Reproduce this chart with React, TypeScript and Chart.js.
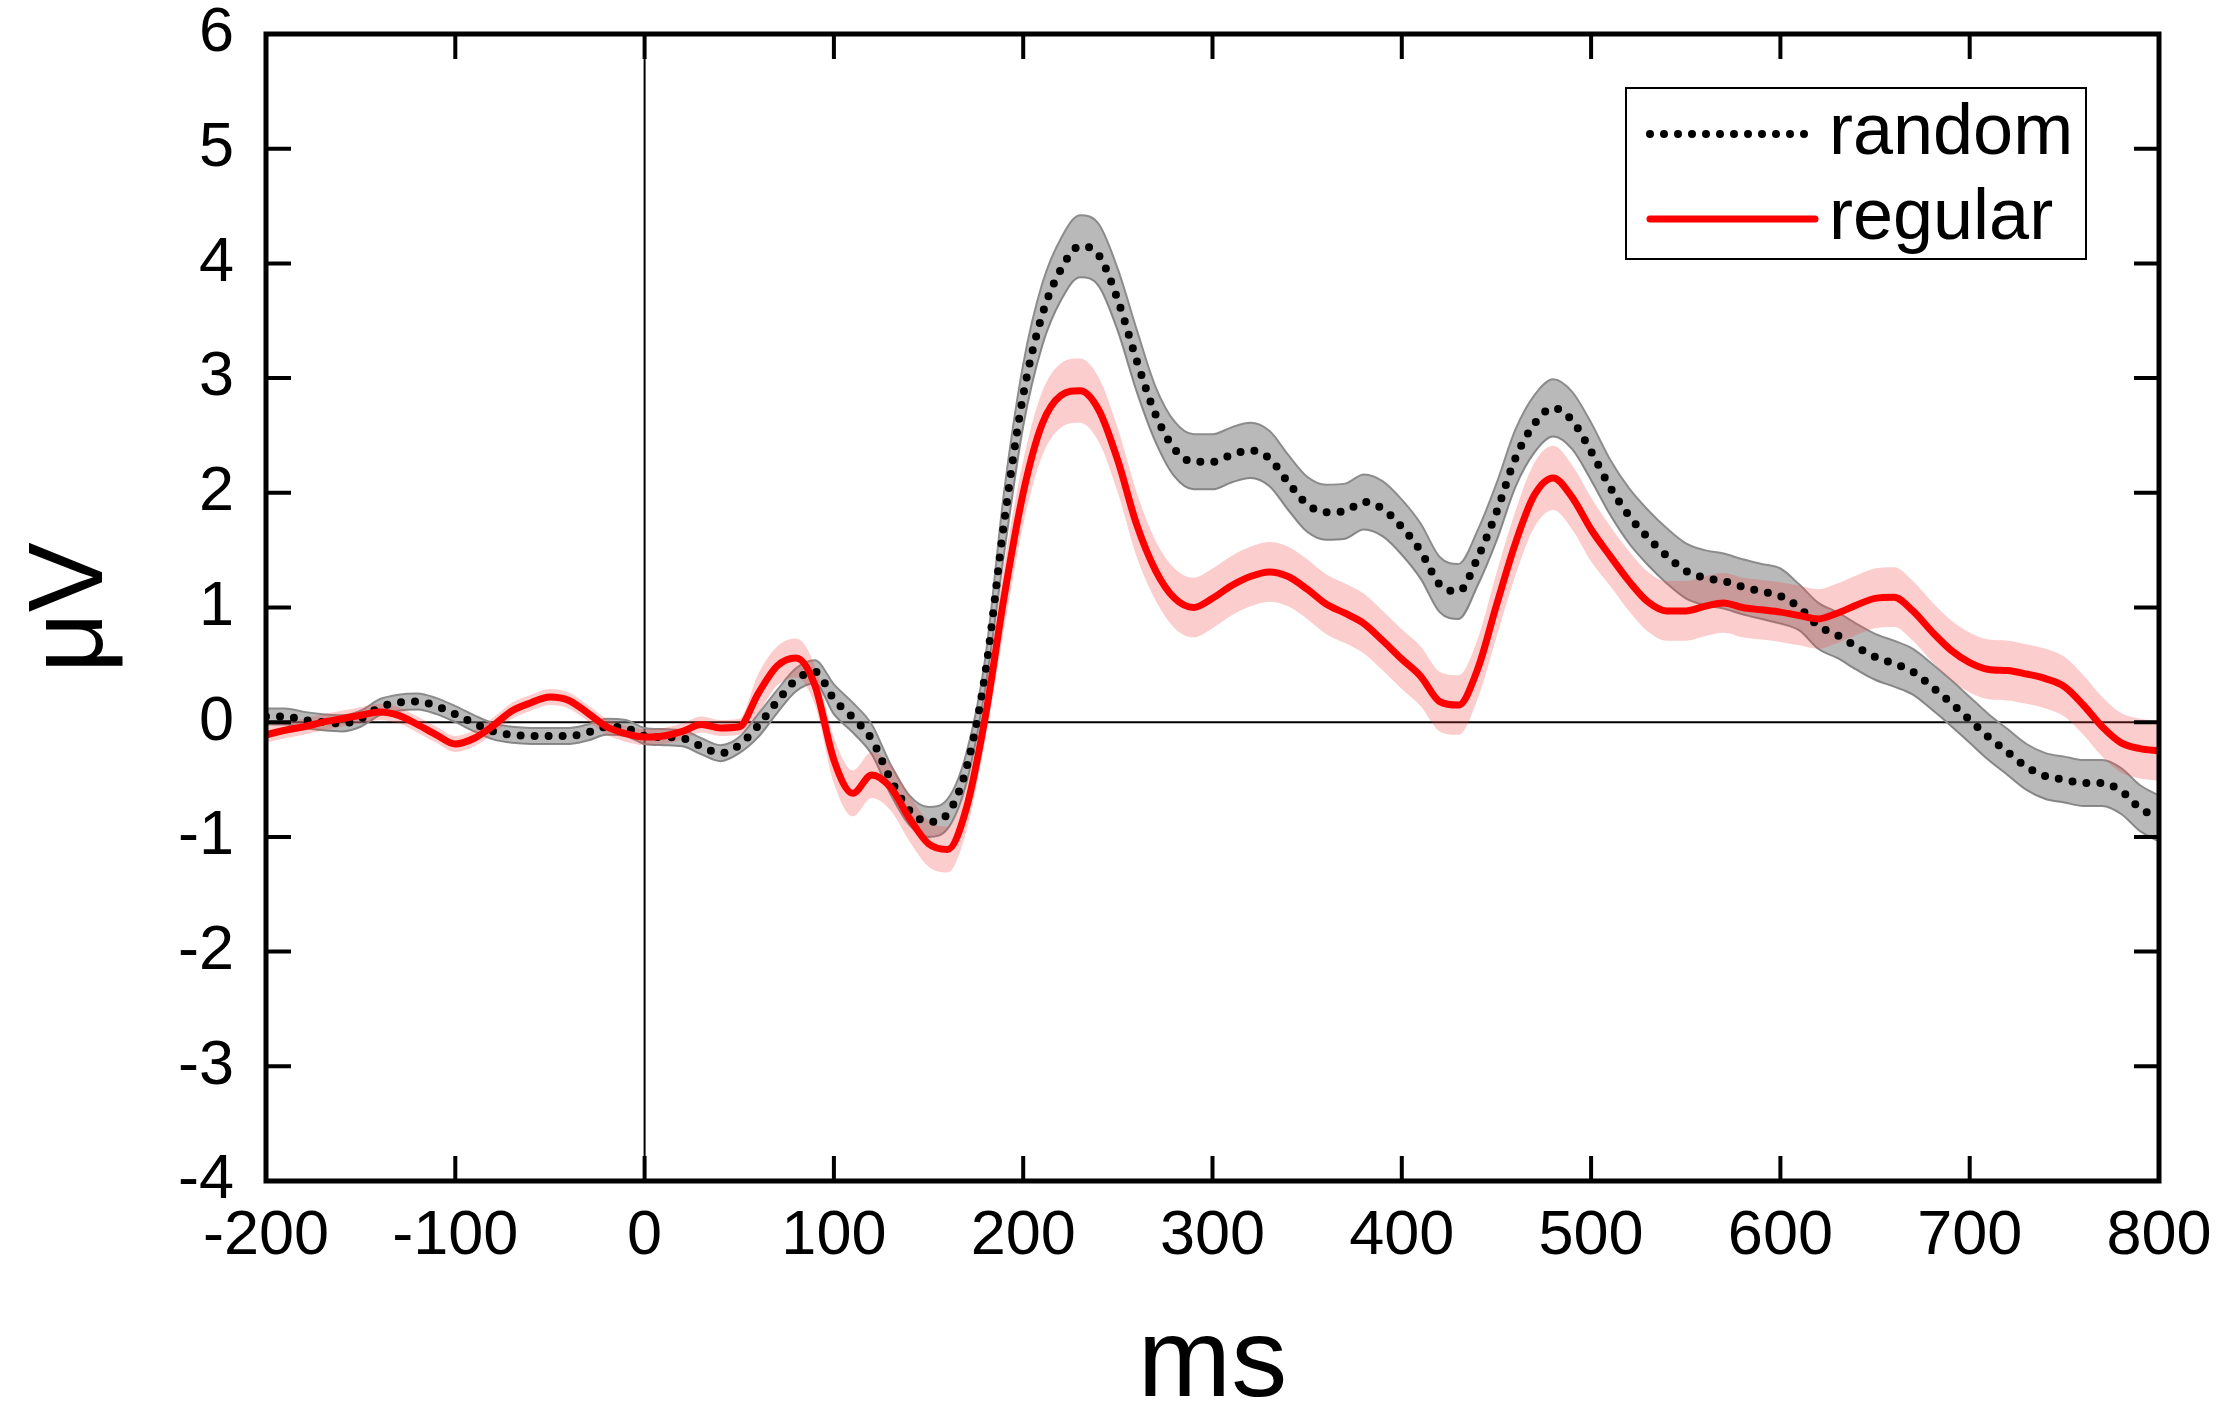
import React, { useEffect, useRef } from 'react';
import { Chart, registerables } from 'chart.js';

Chart.register(...registerables);

// time axis (ms) and the two grand-average ERP traces (µV), every 10 ms
const times = [
  -200, -190, -180, -170, -160, -150, -140, -130, -120, -110, -100, -90, -80, -70, -60, -50, -40, -30, -20, -10,
  0, 10, 20, 30, 40, 50, 60, 70, 80, 90, 100, 110, 120, 130, 140, 150, 160, 170, 180, 190,
  200, 210, 220, 230, 240, 250, 260, 270, 280, 290, 300, 310, 320, 330, 340, 350, 360, 370, 380, 390,
  400, 410, 420, 430, 440, 450, 460, 470, 480, 490, 500, 510, 520, 530, 540, 550, 560, 570, 580, 590,
  600, 610, 620, 630, 640, 650, 660, 670, 680, 690, 700, 710, 720, 730, 740, 750, 760, 770, 780, 790, 800,
];

const randomMean = [
  0.05, 0.05, 0.02, 0.0, -0.01, 0.03, 0.13, 0.17, 0.18, 0.14, 0.07, -0.01, -0.08, -0.11, -0.12, -0.12, -0.12, -0.09, -0.04, -0.05,
  -0.12, -0.13, -0.14, -0.21, -0.27, -0.2, -0.03, 0.18, 0.37, 0.44, 0.2, 0.04, -0.15, -0.5, -0.77, -0.87, -0.8, -0.4, 0.43, 1.75,
  2.85, 3.55, 3.95, 4.15, 4.07, 3.68, 3.15, 2.68, 2.38, 2.27, 2.27, 2.33, 2.37, 2.3, 2.09, 1.9, 1.83, 1.84, 1.92, 1.86,
  1.7, 1.49, 1.2, 1.14, 1.43, 1.83, 2.3, 2.6, 2.74, 2.63, 2.36, 2.05, 1.8, 1.61, 1.45, 1.32, 1.26, 1.23, 1.18, 1.14,
  1.1, 1.0, 0.84, 0.76, 0.66, 0.57, 0.51, 0.44, 0.31, 0.17, 0.02, -0.13, -0.26, -0.39, -0.47, -0.5, -0.53, -0.53, -0.6, -0.75, -0.84,
];

const randomErr = [
  0.07, 0.07, 0.07, 0.07, 0.07, 0.07, 0.07, 0.07, 0.07, 0.07, 0.07, 0.07, 0.07, 0.07, 0.07, 0.07, 0.07, 0.07, 0.07, 0.07,
  0.07, 0.07, 0.07, 0.07, 0.07, 0.07, 0.1, 0.1, 0.1, 0.1, 0.13, 0.13, 0.13, 0.13, 0.13, 0.13, 0.13, 0.13, 0.13, 0.27,
  0.27, 0.27, 0.27, 0.27, 0.27, 0.27, 0.27, 0.24, 0.24, 0.24, 0.24, 0.24, 0.24, 0.24, 0.24, 0.24, 0.24, 0.24, 0.24, 0.24,
  0.24, 0.24, 0.24, 0.24, 0.24, 0.25, 0.25, 0.25, 0.25, 0.25, 0.25, 0.24, 0.24, 0.24, 0.24, 0.24, 0.24, 0.24, 0.24, 0.24,
  0.24, 0.2, 0.2, 0.2, 0.2, 0.2, 0.2, 0.2, 0.2, 0.2, 0.2, 0.2, 0.2, 0.2, 0.2, 0.2, 0.2, 0.2, 0.2, 0.2, 0.2,
];

const regularMean = [
  -0.11, -0.07, -0.04, 0.0, 0.03, 0.06, 0.09, 0.06, -0.02, -0.11, -0.19, -0.14, -0.03, 0.1, 0.17, 0.22, 0.19, 0.08, -0.04, -0.1,
  -0.13, -0.12, -0.08, -0.02, -0.05, -0.04, 0.25, 0.49, 0.56, 0.32, -0.33, -0.62, -0.46, -0.57, -0.84, -1.06, -1.11, -0.75, 0.05, 1.1,
  2.0, 2.6, 2.85, 2.89, 2.72, 2.28, 1.72, 1.32, 1.08, 1.0, 1.08, 1.19, 1.27, 1.31, 1.27, 1.16, 1.03, 0.95, 0.86, 0.71,
  0.55, 0.4, 0.18, 0.15, 0.46, 1.02, 1.56, 1.98, 2.13, 1.96, 1.68, 1.45, 1.23, 1.05, 0.97, 0.97, 1.01, 1.04, 1.0, 0.98,
  0.96, 0.93, 0.9, 0.95, 1.02, 1.08, 1.09, 0.97, 0.79, 0.63, 0.52, 0.46, 0.45, 0.42, 0.38, 0.31, 0.15, -0.04, -0.18, -0.23, -0.25,
];

const regularErr = [
  0.07, 0.07, 0.07, 0.07, 0.07, 0.07, 0.07, 0.07, 0.07, 0.07, 0.07, 0.07, 0.07, 0.07, 0.07, 0.07, 0.07, 0.07, 0.07, 0.07,
  0.07, 0.07, 0.07, 0.07, 0.07, 0.07, 0.17, 0.17, 0.17, 0.17, 0.2, 0.2, 0.2, 0.2, 0.2, 0.2, 0.2, 0.2, 0.2, 0.28,
  0.28, 0.28, 0.28, 0.28, 0.28, 0.28, 0.28, 0.26, 0.26, 0.26, 0.26, 0.26, 0.26, 0.26, 0.26, 0.26, 0.26, 0.26, 0.26, 0.26,
  0.26, 0.26, 0.26, 0.26, 0.26, 0.28, 0.28, 0.28, 0.28, 0.28, 0.28, 0.26, 0.26, 0.26, 0.26, 0.26, 0.26, 0.26, 0.26, 0.26,
  0.26, 0.26, 0.26, 0.26, 0.26, 0.26, 0.26, 0.26, 0.26, 0.26, 0.26, 0.26, 0.26, 0.26, 0.26, 0.26, 0.26, 0.26, 0.26, 0.26, 0.26,
];

const seriesNames = ['random', 'regular'];
const xRange = [-200, 800];
const yRange = [-4, 6];

const FONT = "'Liberation Sans', Arial, sans-serif";

const pts = (vals: number[], err?: number[], sign = 0) =>
  times.map((t, i) => ({ x: t, y: vals[i] + (err ? sign * err[i] : 0) }));

// frame with inward ticks, zero lines and the boxed legend
const erpPlugin = {
  id: 'erpFrame',
  beforeDatasetsDraw(chart: any) {
    const { ctx, chartArea: a, scales } = chart;
    const x0 = scales.x.getPixelForValue(0);
    const y0 = scales.y.getPixelForValue(0);
    ctx.save();
    ctx.strokeStyle = '#000';
    ctx.lineWidth = 2;
    ctx.beginPath();
    ctx.moveTo(x0, a.top);
    ctx.lineTo(x0, a.bottom);
    ctx.moveTo(a.left, y0);
    ctx.lineTo(a.right, y0);
    ctx.stroke();
    ctx.restore();
  },
  afterDatasetsDraw(chart: any) {
    const { ctx, chartArea: a, scales } = chart;
    const tl = 25;
    ctx.save();
    ctx.strokeStyle = '#000';
    ctx.lineWidth = 4;
    ctx.beginPath();
    scales.x.ticks.forEach((t: any) => {
      const px = scales.x.getPixelForValue(t.value);
      ctx.moveTo(px, a.bottom);
      ctx.lineTo(px, a.bottom - tl);
      ctx.moveTo(px, a.top);
      ctx.lineTo(px, a.top + tl);
    });
    scales.y.ticks.forEach((t: any) => {
      const py = scales.y.getPixelForValue(t.value);
      ctx.moveTo(a.left, py);
      ctx.lineTo(a.left + tl, py);
      ctx.moveTo(a.right, py);
      ctx.lineTo(a.right - tl, py);
    });
    ctx.stroke();
    ctx.lineWidth = 5;
    ctx.strokeRect(a.left, a.top, a.right - a.left, a.bottom - a.top);

    // legend box
    const bx = a.right - 533;
    const by = a.top + 54;
    const bw = 460;
    const bh = 171;
    ctx.fillStyle = '#fff';
    ctx.fillRect(bx, by, bw, bh);
    ctx.lineWidth = 2;
    ctx.strokeRect(bx, by, bw, bh);

    const rows = [by + 46, by + 131];
    ctx.lineCap = 'round';
    // dotted sample
    ctx.lineWidth = 8;
    ctx.setLineDash([0, 14]);
    ctx.beginPath();
    ctx.moveTo(bx + 24, rows[0]);
    ctx.lineTo(bx + 189, rows[0]);
    ctx.stroke();
    ctx.setLineDash([]);
    // solid red sample
    ctx.strokeStyle = '#ff0000';
    ctx.lineWidth = 7;
    ctx.beginPath();
    ctx.moveTo(bx + 24, rows[1]);
    ctx.lineTo(bx + 189, rows[1]);
    ctx.stroke();

    ctx.fillStyle = '#000';
    ctx.font = `72px ${FONT}`;
    ctx.textBaseline = 'middle';
    ctx.textAlign = 'left';
    seriesNames.forEach((name, i) => ctx.fillText(name, bx + 203, rows[i]));
    ctx.restore();
  },
};

const App = () => {
  const canvasRef = useRef<HTMLCanvasElement | null>(null);

  useEffect(() => {
    document.body.style.margin = '0';
    document.body.style.overflow = 'hidden';
    if (!canvasRef.current) return;

    const chart = new Chart(canvasRef.current, {
      type: 'line',
      data: {
        datasets: [
          {
            label: 'regular',
            data: pts(regularMean),
            borderColor: '#ff0000',
            borderWidth: 7,
            fill: false,
          },
          {
            label: 'random',
            data: pts(randomMean),
            borderColor: '#000',
            borderWidth: 8,
            borderDash: [0, 14],
            borderCapStyle: 'round',
            fill: false,
          },
          {
            label: 'regular upper',
            data: pts(regularMean, regularErr, 1),
            borderWidth: 0,
            borderColor: 'rgba(0,0,0,0)',
            backgroundColor: 'rgba(240,70,70,0.27)',
            fill: '+1',
          },
          {
            label: 'regular lower',
            data: pts(regularMean, regularErr, -1),
            borderWidth: 0,
            borderColor: 'rgba(0,0,0,0)',
            fill: false,
          },
          {
            label: 'random upper',
            data: pts(randomMean, randomErr, 1),
            borderWidth: 2,
            borderColor: '#8c8c8c',
            backgroundColor: 'rgba(120,120,120,0.52)',
            fill: '+1',
          },
          {
            label: 'random lower',
            data: pts(randomMean, randomErr, -1),
            borderWidth: 2,
            borderColor: '#8c8c8c',
            fill: false,
          },
        ] as any,
      },
      options: {
        animation: false,
        responsive: true,
        maintainAspectRatio: false,
        parsing: false,
        elements: {
          point: { radius: 0, hoverRadius: 0 },
          line: { cubicInterpolationMode: 'monotone' },
        },
        layout: { padding: { top: 34, right: 58, left: 0, bottom: 0 } },
        plugins: {
          legend: { display: false },
          tooltip: { enabled: false },
        },
        scales: {
          x: {
            type: 'linear',
            min: xRange[0],
            max: xRange[1],
            grid: { display: false, drawTicks: false },
            border: { display: false },
            ticks: {
              stepSize: 100,
              padding: 18,
              color: '#000',
              font: { family: FONT, size: 63 },
              maxRotation: 0,
            },
            title: {
              display: true,
              text: 'ms',
              color: '#000',
              font: { family: FONT, size: 112, lineHeight: 0.9 },
              padding: { top: 0, bottom: 0 },
            },
            afterFit: (s: any) => {
              s.height = 235;
              s.paddingLeft = 0;
              s.paddingRight = 0;
            },
          },
          y: {
            type: 'linear',
            min: yRange[0],
            max: yRange[1],
            grid: { display: false, drawTicks: false },
            border: { display: false },
            ticks: {
              stepSize: 1,
              padding: 32,
              color: '#000',
              font: { family: FONT, size: 63, lineHeight: 1 },
            },
            title: {
              display: true,
              text: 'μV',
              color: '#000',
              font: { family: FONT, size: 105 },
              padding: { top: 10, bottom: 0 },
            },
            afterFit: (s: any) => {
              s.width = 266;
              s.paddingTop = 0;
              s.paddingBottom = 0;
            },
          },
        },
      },
      plugins: [erpPlugin],
    });

    return () => chart.destroy();
  }, []);

  return (
    <div style={{ width: 2217, height: 1416, position: 'relative', background: '#fff' }}>
      <canvas ref={canvasRef}></canvas>
    </div>
  );
};

export default App;
